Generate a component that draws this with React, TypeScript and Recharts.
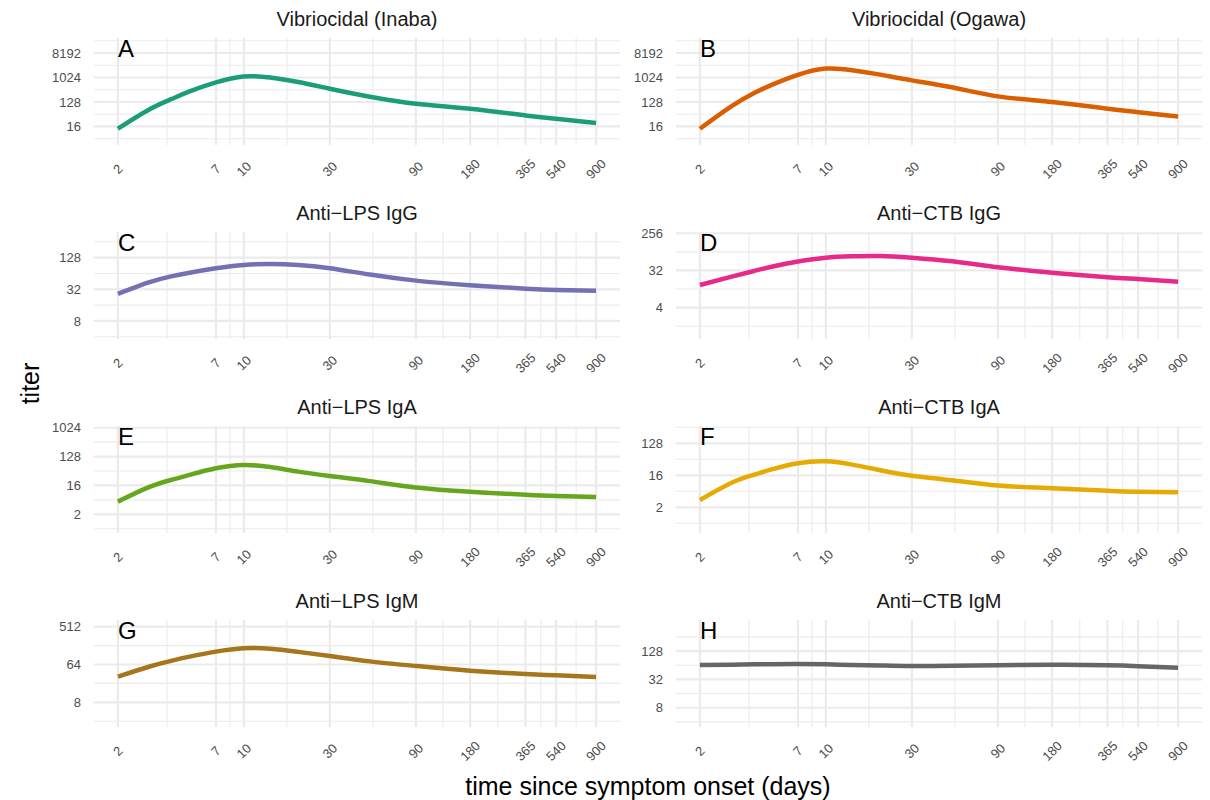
import React from 'react';
import { LineChart, Line, XAxis, YAxis, CartesianGrid, ReferenceDot } from 'recharts';

const days = [2, 3, 4, 5, 7, 10, 14, 20, 30, 50, 90, 180, 365, 540, 900];
const dayTicks = [2, 7, 10, 30, 90, 180, 365, 540, 900];

// titer values (natural scale)
const vibInaba = [13.2, 69, 169, 315, 676, 1113, 1024, 699, 396, 200, 111, 72.5, 41, 31, 21.3];
const vibOgawa = [13.2, 90, 274, 549, 1290, 2180, 1911, 1305, 803, 446, 206, 127, 72.5, 54, 37.5];
const lpsIgG = [26.2, 43.7, 56.9, 66.3, 80.4, 93, 97, 93, 80.4, 61, 46.8, 38.3, 32.9, 31.1, 29.9];
const ctbIgG = [14.2, 22.6, 31.1, 39.4, 52.7, 65.3, 70.5, 72, 65.3, 53.4, 38.3, 28.2, 21.9, 19.8, 17.1];
const lpsIgA = [5, 14.4, 24.3, 34.3, 55, 69.6, 60.5, 43.4, 31.6, 21.9, 13.9, 10.2, 8.2, 7.5, 7.0];
const ctbIgA = [3.2, 9.85, 16.6, 23.4, 35, 39.7, 32, 22.3, 15.6, 11.6, 8.2, 6.9, 5.9, 5.5, 5.3];
const lpsIgM = [32.7, 57.3, 79.3, 98.4, 130, 156, 152, 128, 102, 76, 58.9, 45.6, 38, 35.3, 32];
const ctbIgM = [64.4, 65.8, 66.7, 67.2, 67.6, 66.7, 64.9, 63.1, 61.4, 62.2, 64, 65.3, 63.6, 61, 56.5];

const FONT = '"Liberation Sans", Arial, Helvetica, sans-serif';
const GRID = '#EBEBEB';
const PANEL_W = 526;
const PANEL_H = 107;
const Y_AXIS_W = 60;
const X_AXIS_H = 45;
const TOP_PAD = 20;
const colLeft = [94, 676];
const rowTop = [38, 232, 426, 620];

const p2 = (e: number) => Math.pow(2, e);
const xDomain = [2 * Math.pow(450, -0.05), 900 * Math.pow(450, 0.05)];

interface Panel {
  title: string;
  letter: string;
  color: string;
  values: number[];
  yTicks: number[];
  yDomain: number[];
  col: number;
  row: number;
}

const panels: Panel[] = [
  { title: 'Vibriocidal (Inaba)', letter: 'A', color: '#1B9E77', values: vibInaba, yTicks: [16, 128, 1024, 8192], yDomain: [p2(1.73), p2(14.84)], col: 0, row: 0 },
  { title: 'Vibriocidal (Ogawa)', letter: 'B', color: '#D95F02', values: vibOgawa, yTicks: [16, 128, 1024, 8192], yDomain: [p2(1.73), p2(14.84)], col: 1, row: 0 },
  { title: 'Anti\u2212LPS IgG', letter: 'C', color: '#7570B3', values: lpsIgG, yTicks: [8, 32, 128], yDomain: [p2(1.86), p2(8.62)], col: 0, row: 1 },
  { title: 'Anti\u2212CTB IgG', letter: 'D', color: '#E7298A', values: ctbIgG, yTicks: [4, 32, 256], yDomain: [p2(-0.53), p2(8.1)], col: 1, row: 1 },
  { title: 'Anti\u2212LPS IgA', letter: 'E', color: '#66A61E', values: lpsIgA, yTicks: [2, 16, 128, 1024], yDomain: [p2(-0.94), p2(10.18)], col: 0, row: 2 },
  { title: 'Anti\u2212CTB IgA', letter: 'F', color: '#E6AB02', values: ctbIgA, yTicks: [2, 16, 128], yDomain: [p2(-1.41), p2(8.62)], col: 1, row: 2 },
  { title: 'Anti\u2212LPS IgM', letter: 'G', color: '#A6761D', values: lpsIgM, yTicks: [8, 64, 512], yDomain: [p2(1.04), p2(9.53)], col: 0, row: 3 },
  { title: 'Anti\u2212CTB IgM', letter: 'H', color: '#666666', values: ctbIgM, yTicks: [8, 32, 128], yDomain: [p2(1.64), p2(9.19)], col: 1, row: 3 },
];

// ggplot-style minor breaks: geometric midpoints, one step past each end for y
const midpoints = (b: number[]) => b.slice(1).map((t, i) => Math.sqrt(t * b[i]));
const yMinor = (ticks: number[], dom: number[]) => {
  const step = ticks[1] / ticks[0];
  const ext = [ticks[0] / step, ...ticks, ticks[ticks.length - 1] * step];
  return midpoints(ext).filter(v => v > dom[0] && v < dom[1]);
};
const xMinor = midpoints(dayTicks);

const XTick = (props: any) => {
  const { x, y, payload } = props;
  const cy = y + 24;
  return (
    <text x={x} y={cy} transform={`rotate(-45 ${x} ${cy})`} textAnchor="middle" dominantBaseline="central"
      fontSize={13} fill="#4D4D4D" fontFamily={FONT}>
      {payload.value}
    </text>
  );
};

const LetterLabel = (letter: string) => (props: any) => {
  const vb = props.viewBox || {};
  return (
    <text x={vb.x} y={vb.y + 19} fontSize={24} fill="#000" fontFamily={FONT}>{letter}</text>
  );
};

const PanelChart: React.FC<{ p: Panel }> = ({ p }) => {
  const data = days.map((d, i) => ({ day: d, titer: p.values[i] }));
  const left = colLeft[p.col];
  const top = rowTop[p.row];
  return (
    <>
      <div style={{
        position: 'absolute', left, top: top - 31, width: PANEL_W, textAlign: 'center',
        fontSize: 20, lineHeight: '24px', color: '#1A1A1A', fontFamily: FONT,
      }}>{p.title}</div>
      <div style={{ position: 'absolute', left: left - Y_AXIS_W, top: top - TOP_PAD }}>
        <LineChart width={PANEL_W + Y_AXIS_W} height={PANEL_H + X_AXIS_H + TOP_PAD} data={data}
          margin={{ top: TOP_PAD, right: 0, bottom: 0, left: 0 }}>
          <CartesianGrid stroke={GRID} strokeWidth={1.1} horizontalValues={yMinor(p.yTicks, p.yDomain)} verticalValues={xMinor} />
          <CartesianGrid stroke={GRID} strokeWidth={2.2} horizontalValues={p.yTicks} verticalValues={dayTicks} />
          <XAxis dataKey="day" type="number" scale="log" domain={xDomain} ticks={dayTicks} interval={0}
            allowDataOverflow height={X_AXIS_H} axisLine={false} tickLine={false} tickSize={0} tickMargin={0}
            tick={<XTick />} />
          <YAxis type="number" scale="log" domain={p.yDomain} ticks={p.yTicks} interval={0} allowDataOverflow
            width={Y_AXIS_W} axisLine={false} tickLine={false} tickSize={0} tickMargin={13}
            tick={{ fontSize: 13, fill: '#4D4D4D', fontFamily: FONT }} />
          <Line type="natural" dataKey="titer" stroke={p.color} strokeWidth={4.5} dot={false} activeDot={false}
            isAnimationActive={false} />
          <ReferenceDot x={2} y={p.yDomain[1]} r={0} fill="none" stroke="none" ifOverflow="visible"
            label={{ content: LetterLabel(p.letter) }} />
        </LineChart>
      </div>
    </>
  );
};

export default function App() {
  return (
    <div style={{ position: 'absolute', left: 0, top: 0, width: 1210, height: 800, background: '#fff', fontFamily: FONT }}>
      {panels.map(p => <PanelChart key={p.letter} p={p} />)}
      <svg width={1210} height={800} style={{ position: 'absolute', left: 0, top: 0, pointerEvents: 'none' }}>
        <text x={30} y={383.5} transform="rotate(-90 30 383.5)" textAnchor="middle" dominantBaseline="central"
          fontSize={25} fill="#000" fontFamily={FONT}>titer</text>
        <text x={648} y={786} textAnchor="middle" dominantBaseline="central" fontSize={25} fill="#000"
          fontFamily={FONT}>time since symptom onset (days)</text>
      </svg>
    </div>
  );
}
